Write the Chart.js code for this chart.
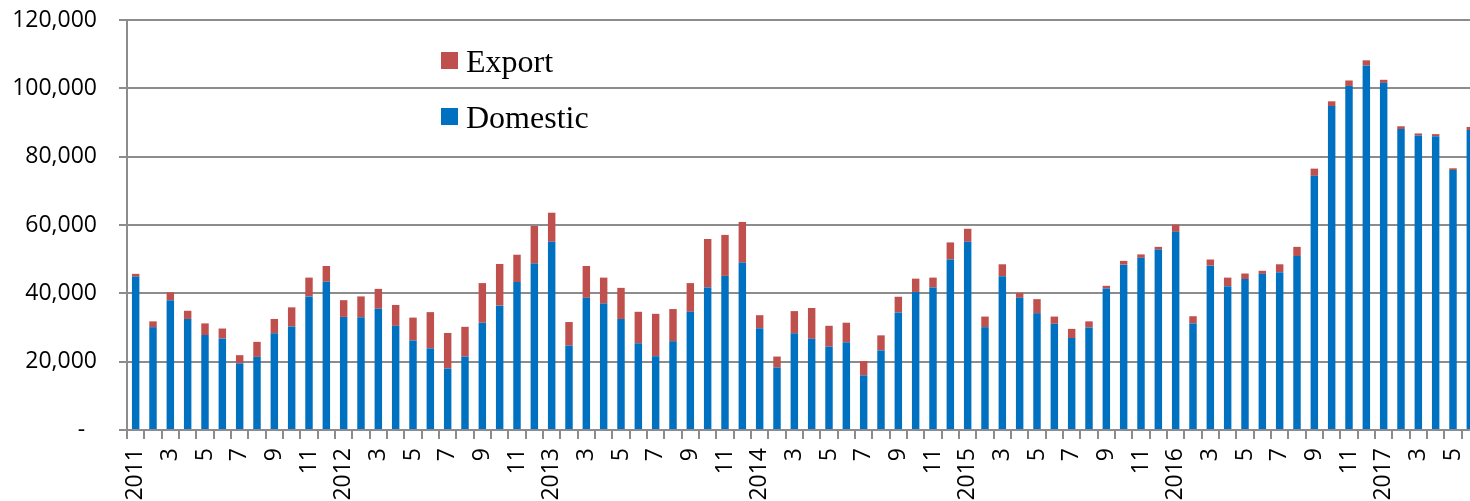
<!DOCTYPE html>
<html>
<head>
<meta charset="utf-8">
<title>Domestic and export</title>
<script src="https://cdn.jsdelivr.net/npm/chart.js@4.4.1/dist/chart.umd.min.js"></script>
<style>
  html, body { margin: 0; padding: 0; background: #fff; overflow: hidden; }
  .wrap { position: relative; width: 1479px; height: 501px; }
  #legend { position: absolute; left: 441px; top: 0; font-family: "Liberation Serif", serif; font-size: 32px; color: #000; }
  #legend .item { position: absolute; left: 0; white-space: nowrap; height: 36px; line-height: 36px; }
  #legend .box { position: absolute; left: 0; top: 9px; width: 17px; height: 17px; }
  #legend .txt { position: absolute; left: 25px; top: 0; }
</style>
</head>
<body>
<div class="wrap">
  <canvas id="barChart"></canvas>
  <div id="legend"></div>
</div>
<script>
// monthly, Jan 2011 - Jun 2017
var years = ['2011', '2012', '2013', '2014', '2015', '2016', '2017'];

var domestic = [
  44900, 30100, 38000, 32500, 27800, 26800, 19500, 21400, 28300, 30300, 39100, 43400,
  33100, 33000, 35500, 30500, 26200, 23900, 18000, 21500, 31400, 36400, 43300, 48700,
  55100, 24700, 38700, 37000, 32500, 25400, 21600, 26000, 34600, 41700, 45100, 49000,
  29800, 18300, 28300, 26700, 24400, 25700, 16000, 23300, 34400, 40400, 41700, 49900,
  55100, 30100, 45000, 38700, 34200, 31100, 26900, 30000, 41400, 48400, 50400, 52800,
  58000, 31200, 48100, 42100, 44200, 45700, 46200, 50900, 74400, 94800, 100700, 106700,
  101600, 88100, 86200, 86000, 76100, 87800
];

var exports = [
  800, 1700, 2300, 2400, 3400, 2900, 2400, 4400, 4200, 5600, 5500, 4600,
  4900, 6100, 5800, 6100, 6700, 10600, 10400, 8700, 11600, 12200, 8000, 11000,
  8500, 6900, 9300, 7600, 9100, 9200, 12400, 9400, 8400, 14200, 12000, 11900,
  3800, 3200, 6500, 9000, 6100, 5700, 4200, 4400, 4600, 3900, 2900, 5000,
  3800, 3100, 3500, 1400, 4100, 2100, 2700, 1800, 800, 1100, 1000, 800,
  2100, 2100, 1800, 2500, 1600, 900, 2300, 2700, 2100, 1400, 1600, 1500,
  900, 800, 600, 600, 500, 900
];

var tickLabels = [
  '2011', '', '3', '', '5', '', '7', '', '9', '', '11', '',
  '2012', '', '3', '', '5', '', '7', '', '9', '', '11', '',
  '2013', '', '3', '', '5', '', '7', '', '9', '', '11', '',
  '2014', '', '3', '', '5', '', '7', '', '9', '', '11', '',
  '2015', '', '3', '', '5', '', '7', '', '9', '', '11', '',
  '2016', '', '3', '', '5', '', '7', '', '9', '', '11', '',
  '2017', '', '3', '', '5', ''
];

var yTicks = [0, 20000, 40000, 60000, 80000, 100000, 120000];

var categories = [];
years.forEach(function (y) {
  for (var m = 1; m <= 12; m++) {
    if (categories.length < domestic.length) categories.push(y + '-' + m);
  }
});

var gridColor = '#8c8c8c';
var tickFont = { family: 'Open Sans', size: 23 };

var ctx = document.getElementById('barChart').getContext('2d');
var chart = new Chart(ctx, {
  type: 'bar',
  data: {
    labels: categories,
    datasets: [{
      label: 'Domestic',
      data: domestic,
      backgroundColor: '#0070c0',
      barPercentage: 0.43,
      categoryPercentage: 1
    }, {
      label: 'Export',
      data: exports,
      backgroundColor: '#c0504d',
      barPercentage: 0.43,
      categoryPercentage: 1
    }]
  },
  options: {
    responsive: true,
    maintainAspectRatio: false,
    animation: false,
    layout: { padding: { top: 20, left: 0, right: 0, bottom: 0 } },
    plugins: {
      legend: { display: false },
      tooltip: { enabled: false }
    },
    scales: {
      x: {
        stacked: true,
        grid: { drawOnChartArea: false, drawTicks: true, tickLength: 9, color: gridColor, lineWidth: 2, offset: true },
        border: { color: gridColor, width: 2 },
        ticks: {
          autoSkip: false, minRotation: 90, maxRotation: 90, padding: 9,
          color: '#000', font: tickFont,
          callback: function (v, i) { return tickLabels[i]; }
        },
        afterFit: function (s) { s.height = 71; s.paddingLeft = 0; s.paddingRight = 0; }
      },
      y: {
        stacked: true,
        min: yTicks[0],
        max: yTicks[yTicks.length - 1],
        afterBuildTicks: function (s) { s.ticks = yTicks.map(function (v) { return { value: v }; }); },
        grid: { color: gridColor, lineWidth: 2, tickLength: 8 },
        border: { color: gridColor, width: 2 },
        ticks: {
          padding: 22, color: '#000', font: tickFont,
          callback: function (v) { return v === 0 ? '-  ' : v.toLocaleString('en-US'); }
        },
        afterFit: function (s) { s.width = 127; s.paddingTop = 0; s.paddingBottom = 0; }
      }
    }
  }
});

// legend, Export above Domestic
var legendTops = [43, 99];
var legendEl = document.getElementById('legend');
chart.data.datasets.slice().reverse().forEach(function (ds, k) {
  var item = document.createElement('div');
  item.className = 'item';
  item.style.top = legendTops[k] + 'px';
  item.innerHTML = '<span class="box" style="background:' + ds.backgroundColor + '"></span><span class="txt">' + ds.label + '</span>';
  legendEl.appendChild(item);
});
</script>
</body>
</html>
